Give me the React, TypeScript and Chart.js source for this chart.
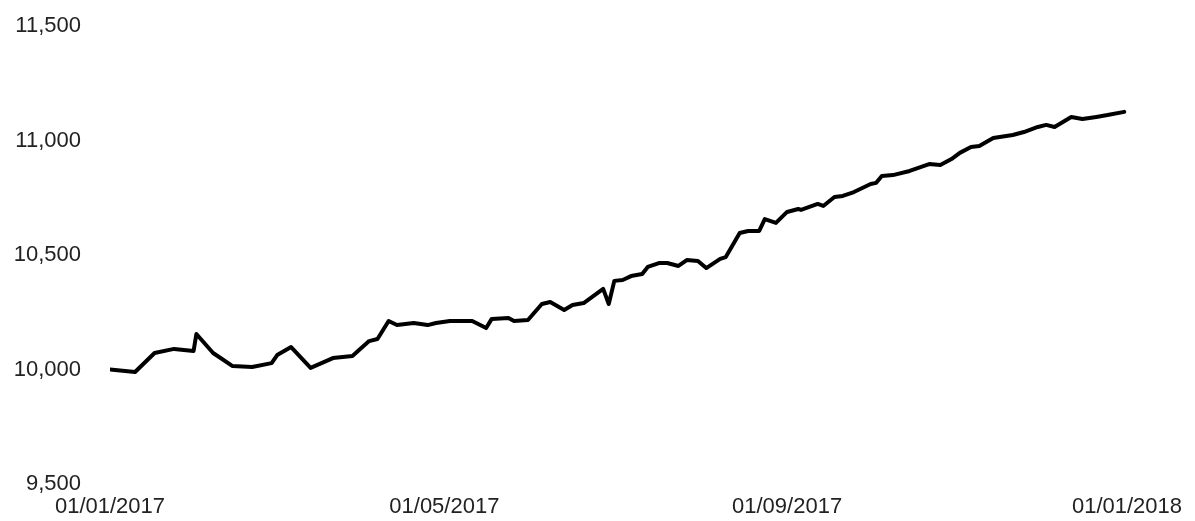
import React, { useEffect, useRef } from "react";
import { Chart, registerables } from "chart.js";

Chart.register(...registerables);

// Days since 01/01/2017 for each observation
const dayOffsets = [
  0, 9, 16, 23, 30, 31, 37, 44, 51, 58, 60, 65, 72, 80, 87, 93, 96, 100, 103, 109,
  114, 117, 122, 130, 135, 137, 143, 145, 150, 155, 158, 163, 166, 170, 177, 179, 181, 184, 187, 191,
  193, 197, 200, 204, 207, 211, 214, 219, 221, 226, 229, 233, 235, 239, 243, 247, 248, 254, 256, 260,
  263, 267, 273, 275, 277, 281, 287, 294, 298, 302, 305, 309, 312, 317, 324, 328, 333, 336, 339, 342,
  345, 349, 354, 358, 364,
];

const values = [
  10000, 9989, 10072, 10090, 10081, 10155, 10072, 10015, 10011, 10028, 10063, 10098, 10007, 10050, 10059, 10124, 10133, 10212, 10194, 10203,
  10194, 10203, 10212, 10212, 10181, 10221, 10225, 10212, 10216, 10286, 10295, 10260, 10282, 10290, 10352, 10286, 10387, 10391, 10408, 10417,
  10448, 10465, 10465, 10452, 10478, 10474, 10443, 10483, 10491, 10596, 10605, 10605, 10657, 10640, 10688, 10701, 10697, 10723, 10714, 10753,
  10758, 10775, 10810, 10815, 10845, 10849, 10867, 10897, 10893, 10919, 10946, 10972, 10976, 11011, 11024, 11037, 11059, 11068, 11059, 11081,
  11103, 11094, 11103, 11111, 11125,
];

const xTickDays = [0, 120, 243, 365];
const xTickLabels = ["01/01/2017", "01/05/2017", "01/09/2017", "01/01/2018"];
const yTicks = [9500, 10000, 10500, 11000, 11500];

export default function App() {
  const canvasRef = useRef<HTMLCanvasElement | null>(null);

  useEffect(() => {
    if (!canvasRef.current) return;
    const font = { family: "'Liberation Sans', Arial, sans-serif", size: 22 };
    const chart = new Chart(canvasRef.current, {
      type: "line",
      data: {
        datasets: [
          {
            data: dayOffsets.map((d, i) => ({ x: d, y: values[i] })),
            borderColor: "#000000",
            borderWidth: 4,
            pointRadius: 0,
            tension: 0,
            borderJoinStyle: "round",
            borderCapStyle: "round",
            fill: false,
          },
        ],
      },
      options: {
        animation: false,
        responsive: true,
        maintainAspectRatio: false,
        layout: { padding: { left: 0, right: 60, top: 18, bottom: 0 } },
        plugins: { legend: { display: false }, tooltip: { enabled: false } },
        scales: {
          x: {
            type: "linear",
            min: xTickDays[0],
            max: xTickDays[xTickDays.length - 1],
            grid: { display: false, drawTicks: false },
            border: { display: false },
            afterBuildTicks: (scale: any) => {
              scale.ticks = xTickDays.map((v) => ({ value: v }));
            },
            afterFit: (scale: any) => {
              scale.height = 37;
              scale.paddingLeft = 0;
              scale.paddingRight = 0;
            },
            ticks: {
              autoSkip: false,
              maxRotation: 0,
              minRotation: 0,
              padding: 10,
              color: "#222222",
              font,
              callback: (value: any) => {
                const idx = xTickDays.indexOf(Number(value));
                return idx >= 0 ? xTickLabels[idx] : "";
              },
            },
          },
          y: {
            min: yTicks[0],
            max: yTicks[yTicks.length - 1],
            grid: { display: false, drawTicks: false },
            border: { display: false },
            afterBuildTicks: (scale: any) => {
              scale.ticks = yTicks.map((v) => ({ value: v }));
            },
            afterFit: (scale: any) => {
              scale.width = 102;
              scale.paddingTop = 0;
              scale.paddingBottom = 0;
            },
            ticks: {
              padding: 29,
              color: "#222222",
              font,
              callback: (value: any) => Number(value).toLocaleString("en-US"),
            },
          },
        },
      },
    });
    return () => chart.destroy();
  }, []);

  return (
    <div style={{ position: "absolute", left: 8, top: 8, width: 1179, height: 513 }}>
      <canvas ref={canvasRef} />
    </div>
  );
}
